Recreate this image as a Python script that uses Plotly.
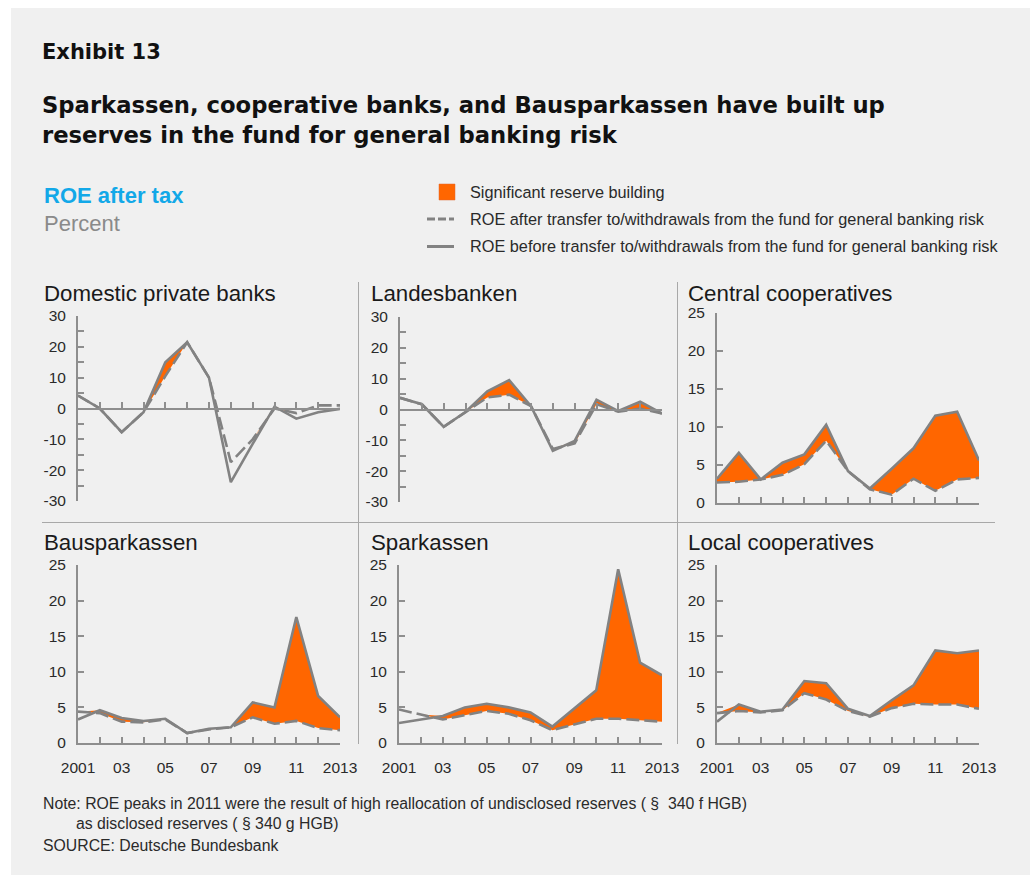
import plotly.graph_objects as go

W, H = 1030, 875

years = list(range(2001, 2014))

panel_names = [
    "Domestic private banks", "Landesbanken", "Central cooperatives",
    "Bausparkassen", "Sparkassen", "Local cooperatives",
]

# ROE before transfer to/withdrawals from the fund for general banking risk
before_private = [4.2, 0.0, -7.7, -1.2, 15.0, 21.5, 10.0, -23.9, -11.5, 0.6, -3.3, -1.2, -0.1]
before_landes = [3.8, 1.7, -5.6, -0.8, 5.9, 9.5, 1.1, -13.4, -10.2, 3.2, -0.5, 2.5, -1.3]
before_central = [3.2, 6.6, 3.1, 5.3, 6.4, 10.3, 4.2, 1.9, 4.5, 7.2, 11.5, 12.0, 5.6]
before_bauspar = [3.3, 4.6, 3.5, 3.1, 3.4, 1.4, 2.0, 2.2, 5.7, 5.0, 17.7, 6.6, 3.6]
before_spark = [2.8, 3.3, 3.8, 5.0, 5.5, 5.0, 4.3, 2.3, 4.8, 7.4, 24.4, 11.3, 9.5]
before_local = [3.0, 5.4, 4.4, 4.7, 8.7, 8.4, 4.8, 3.8, 6.0, 8.1, 13.0, 12.6, 13.0]

# ROE after transfer to/withdrawals from the fund for general banking risk
after_private = [4.2, 0.0, -7.7, -1.2, 10.5, 21.5, 10.0, -17.4, -10.0, 0.0, -1.5, 1.0, 1.0]
after_landes = [3.8, 1.7, -5.6, -0.8, 3.9, 4.8, 1.1, -12.8, -11.0, 1.7, -0.7, 0.3, -1.3]
after_central = [2.7, 2.8, 3.1, 3.7, 5.1, 8.2, 4.2, 1.8, 1.1, 3.2, 1.6, 3.1, 3.3]
after_bauspar = [4.4, 4.2, 3.0, 2.9, 3.3, 1.4, 1.9, 2.2, 3.6, 2.7, 3.1, 2.1, 1.8]
after_spark = [4.7, 4.0, 3.3, 3.9, 4.5, 4.1, 3.2, 1.8, 2.6, 3.4, 3.4, 3.2, 3.0]
after_local = [4.2, 4.5, 4.3, 4.6, 7.0, 6.1, 4.5, 3.7, 4.9, 5.5, 5.4, 5.4, 4.8]

before_series = [before_private, before_landes, before_central,
                 before_bauspar, before_spark, before_local]
after_series = [after_private, after_landes, after_central,
                after_bauspar, after_spark, after_local]

year_labels = ["2001", "", "03", "", "05", "", "07", "", "09", "", "11", "", "2013"]
y_ranges = [(-30, 30), (-30, 30), (0, 25), (0, 25), (0, 25), (0, 25)]

# pixel boxes of the six plot areas: (left, right, top, bottom)
boxes = [
    (78, 340, 316, 501), (400, 662, 317, 502), (717, 979, 313, 503),
    (78, 340, 565, 743), (399, 662, 565, 743), (717, 979, 565, 743),
]

ORANGE = "#ff6600"
GREY = "#828282"
AXIS = "#8e8e8e"
FONT = "Liberation Sans, Arial, sans-serif"
WIDE_BOLD = "DejaVu Sans, Liberation Sans, sans-serif"


def px(x):
    return x / W


def py(y):
    return 1 - y / H


fig = go.Figure()
layout = {}

for i in range(6):
    n = "" if i == 0 else str(i + 1)
    xa, ya = "x" + n, "y" + n
    before, after = before_series[i], after_series[i]
    upper = [max(b, a) for b, a in zip(before, after)]

    # orange band where the pre-transfer ROE exceeds the post-transfer ROE
    fig.add_trace(go.Scatter(x=years, y=after, xaxis=xa, yaxis=ya, mode="lines",
                             line=dict(width=0), hoverinfo="skip", showlegend=False))
    fig.add_trace(go.Scatter(x=years, y=upper, xaxis=xa, yaxis=ya, mode="lines",
                             line=dict(width=0), fill="tonexty", fillcolor=ORANGE,
                             hoverinfo="skip", showlegend=False))
    fig.add_trace(go.Scatter(x=years, y=after, xaxis=xa, yaxis=ya, mode="lines",
                             line=dict(color=GREY, width=2.6, dash="13px,5px"),
                             showlegend=False))
    fig.add_trace(go.Scatter(x=years, y=before, xaxis=xa, yaxis=ya, mode="lines",
                             line=dict(color=GREY, width=2.6), showlegend=False))

    l, r, t, b = boxes[i]
    lo, hi = y_ranges[i]
    yticks = list(range(lo, hi + 1, 5))
    if lo < 0:
        ytext = [str(v) if v % 10 == 0 else "" for v in yticks]
    else:
        ytext = [str(v) for v in yticks]

    xaxis = dict(domain=[px(l), px(r)], range=[2001, 2013], anchor=ya,
                 automargin=False,
                 showline=True, linecolor=AXIS, linewidth=2, showgrid=False,
                 zeroline=False, ticks="inside", ticklen=6, tickwidth=1.5,
                 tickcolor=AXIS, tickvals=years,
                 ticktext=year_labels if i >= 3 else [""] * len(years),
                 tickfont=dict(family=FONT, size=15.5, color="#2a2a2a"),
                 ticklabelstandoff=9, fixedrange=True)
    if lo < 0:
        zero_y = t + (b - t) * hi / (hi - lo)
        xaxis.update(anchor="free", position=py(zero_y))
    yaxis = dict(domain=[py(b), py(t)], range=[lo, hi], anchor=xa,
                 automargin=False,
                 showline=True, linecolor=AXIS, linewidth=2, showgrid=False,
                 zeroline=False, ticks="inside", ticklen=6, tickwidth=1.5,
                 tickcolor=AXIS, tickvals=yticks, ticktext=ytext,
                 tickfont=dict(family=FONT, size=15.5, color="#2a2a2a"),
                 ticklabelstandoff=7, fixedrange=True)
    layout["xaxis" + n] = xaxis
    layout["yaxis" + n] = yaxis

shapes = [
    # grey page panel
    dict(type="rect", xref="paper", yref="paper", x0=px(11), x1=px(1030),
         y0=py(875), y1=py(8), fillcolor="#f0f0f0", line=dict(width=0), layer="below"),
    # panel separators
    dict(type="line", xref="paper", yref="paper", x0=px(358.5), x1=px(358.5),
         y0=py(282), y1=py(744), line=dict(color="#a8a8a8", width=1)),
    dict(type="line", xref="paper", yref="paper", x0=px(677.5), x1=px(677.5),
         y0=py(282), y1=py(744), line=dict(color="#a8a8a8", width=1)),
    dict(type="line", xref="paper", yref="paper", x0=px(42), x1=px(995),
         y0=py(522.5), y1=py(522.5), line=dict(color="#a8a8a8", width=1)),
    # legend keys
    dict(type="rect", xref="paper", yref="paper", x0=px(439), x1=px(455),
         y0=py(200), y1=py(184), fillcolor=ORANGE, line=dict(color="#e06a30", width=0.5)),
    dict(type="line", xref="paper", yref="paper", x0=px(427), x1=px(454),
         y0=py(219), y1=py(219), line=dict(color=GREY, width=3, dash="8px,3px")),
    dict(type="line", xref="paper", yref="paper", x0=px(427), x1=px(454),
         y0=py(246.5), y1=py(246.5), line=dict(color=GREY, width=3)),
]

annotations = []


def text(x, y, s, size, color="#1a1a1a", bold=False, family=FONT):
    annotations.append(dict(
        xref="paper", yref="paper", x=px(x), y=py(y), text=f"<b>{s}</b>" if bold else s,
        showarrow=False, xanchor="left", yanchor="middle", align="left",
        font=dict(family=family, size=size, color=color)))


text(40, 52, "Exhibit 13", 21, "#111111", bold=True, family=WIDE_BOLD)
text(40, 105, "Sparkassen, cooperative banks, and Bausparkassen have built up", 22.7,
     "#111111", bold=True, family=WIDE_BOLD)
text(40, 135, "reserves in the fund for general banking risk", 22.7, "#111111", bold=True,
     family=WIDE_BOLD)
text(42, 195, "ROE after tax", 22, "#12a8e8", bold=True)
text(42, 223, "Percent", 22, "#8a8a8a")
text(468, 192, "Significant reserve building", 16.3, "#2a2a2a")
text(468, 219, "ROE after transfer to/withdrawals from the fund for general banking risk",
     16.3, "#2a2a2a")
text(468, 246.5, "ROE before transfer to/withdrawals from the fund for general banking risk",
     16.3, "#2a2a2a")

title_pos = [(42, 293), (369, 293), (686, 293), (42, 542), (369, 542), (686, 542)]
for (x, y), name in zip(title_pos, panel_names):
    text(x, y, name, 22.3, "#1a1a1a")

text(41, 803, "Note: ROE peaks in 2011 were the result of high reallocation of undisclosed "
     "reserves ( §  340 f HGB)", 15.8, "#2a2a2a")
text(74, 823, "as disclosed reserves ( § 340 g HGB)", 15.8, "#2a2a2a")
text(41, 845, "SOURCE: Deutsche Bundesbank", 15.8, "#2a2a2a")

fig.update_layout(
    width=W, height=H, margin=dict(l=0, r=0, t=0, b=0, autoexpand=False),
    paper_bgcolor="white", plot_bgcolor="rgba(0,0,0,0)",
    shapes=shapes, annotations=annotations, showlegend=False,
    font=dict(family=FONT), **layout)

fig.write_html("out.html", config={"displayModeBar": False})
